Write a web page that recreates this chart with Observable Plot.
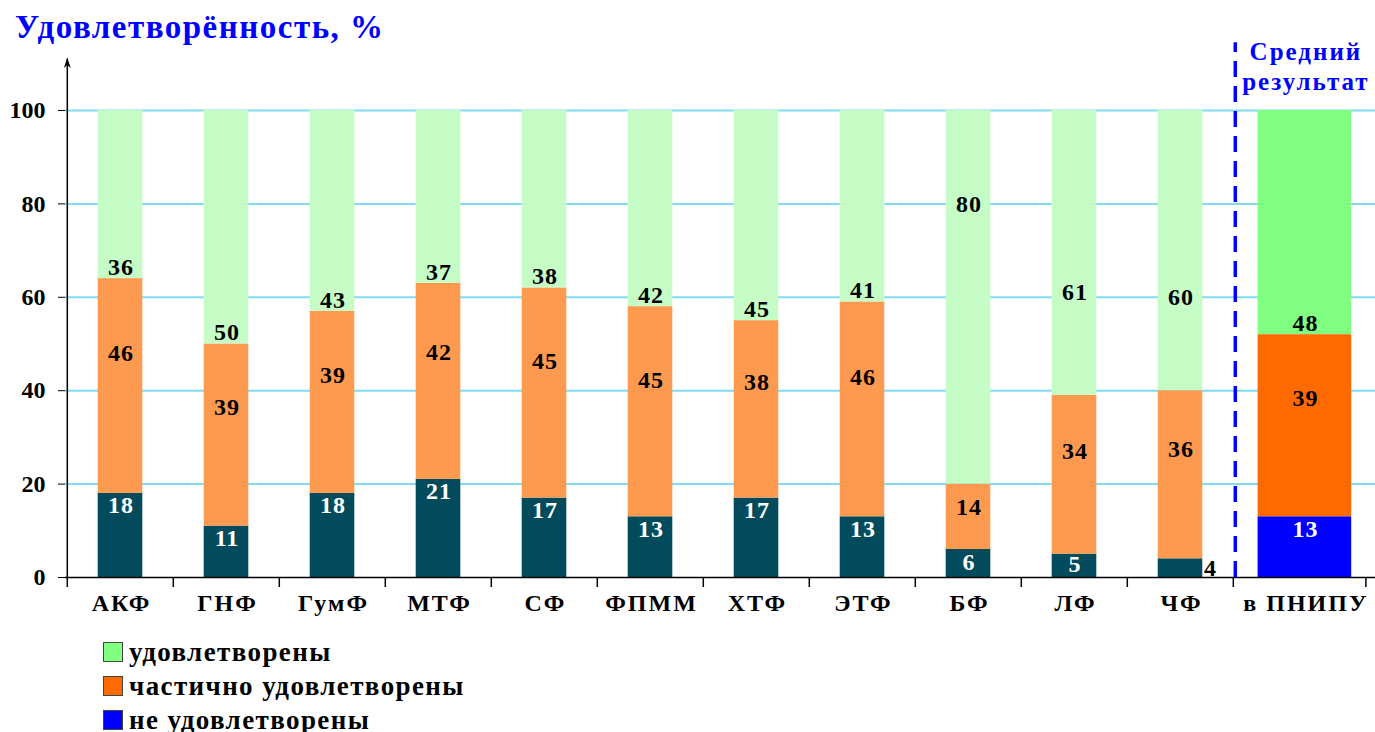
<!DOCTYPE html>
<html><head><meta charset="utf-8">
<script src="https://cdn.jsdelivr.net/npm/d3@7"></script>
<script src="https://cdn.jsdelivr.net/npm/@observablehq/plot@0.6"></script>
<style>
body{margin:0;background:#fff;font-family:"Liberation Serif","Times New Roman",serif;overflow:hidden;}
#title{height:44px;box-sizing:border-box;padding:12px 0 0 15px;font-size:33px;line-height:30px;font-weight:bold;color:#0000ff;white-space:nowrap;letter-spacing:1.5px;}
#chart svg{display:block;}
#legend{padding-left:103px;margin-top:-5px;}
.row{height:34px;display:flex;align-items:center;font-size:27px;font-weight:bold;color:#000;letter-spacing:1.4px;}
.sw{width:18px;height:18px;border:1px solid #444;margin-right:6px;flex:none;}
</style></head><body>
<div id="title">Удовлетворённость, %</div>
<div id="chart"></div>
<div id="legend"></div>
<script>
const categories = ["АКФ","ГНФ","ГумФ","МТФ","СФ","ФПММ","ХТФ","ЭТФ","БФ","ЛФ","ЧФ","в ПНИПУ"];
const notSatisfied    = [18,11,18,21,17,13,17,13, 6, 5, 4,13];
const partlySatisfied = [46,39,39,42,45,45,38,46,14,34,36,39];
const satisfied       = [36,50,43,37,38,42,45,41,80,61,60,48];
const seriesNames = ["не удовлетворены","частично удовлетворены","удовлетворены"];
const yTicks = [0,20,40,60,80,100];
const averageNote = "Средний\nрезультат";

const facultyColors = ["#024b5d","#fd9a50","#c6fdc6"];
const averageColors = ["#0000ff","#ff6a00","#80ff80"];

const rows = [];
categories.forEach((cat, i) => {
  const vals = [notSatisfied[i], partlySatisfied[i], satisfied[i]];
  let lower = 0;
  vals.forEach((v, j) => {
    rows.push({cat, series: j, value: v, lower, upper: lower + v, avg: i === categories.length - 1});
    lower += v;
  });
});
const facRows = rows.filter(d => !d.avg);
const avgRows = rows.filter(d => d.avg);
const facCats = categories.slice(0, -1);
const avgCats = categories.slice(-1);

const W = 1375, H = 596;
const x0 = 65, step = 106.4, barHalf = 22.5;
const avgInsetL = 24.6, avgInsetR = -12.2;
const avgShift = (avgInsetL - avgInsetR) / 2;

function labelY(d) {
  if (d.series === 0) return d.value < 5 ? d.value / 2 : d.value >= 10 ? d.value - 2.6 : d.value * 0.55;
  if (d.series === 1) return d.lower + 0.65 * d.value;
  return d.value >= 55 ? d.value : d.lower + 2.4;
}
const labelFont = {fontSize: 24, fontWeight: "bold"};
function labels(data, dx, half) {
  return [
    Plot.text(data.filter(d => !(d.series === 0 && d.value < 5)), {
      x: "cat", y: labelY, text: d => String(d.value), dx: dx + 0.5,
      fill: d => d.series === 0 ? "white" : "black", ...labelFont
    }),
    Plot.text(data.filter(d => d.series === 0 && d.value < 5), {
      x: "cat", y: labelY, text: d => String(d.value), dx: dx + half + 1,
      textAnchor: "start", fill: "black", ...labelFont
    })
  ];
}

const arrowHead = {draw(ctx) { ctx.moveTo(0, -1); ctx.lineTo(-3.5, 9); ctx.lineTo(0, 6); ctx.lineTo(3.5, 9); ctx.closePath(); }};
const catFont = {fontSize: 24, fontWeight: "bold", fill: "black"};

const plot = Plot.plot({
  width: W, height: H,
  marginLeft: x0, marginRight: 0, marginTop: 14.6, marginBottom: 63,
  x: {type: "band", domain: categories, range: [x0, x0 + step * categories.length], padding: 0, axis: null},
  y: {domain: [0, 111], ticks: yTicks, tickSize: 7, tickPadding: 13, label: null},
  color: {type: "identity"},
  style: {fontFamily: "Liberation Serif", fontWeight: "bold", fontSize: "24px", color: "black", background: "white", overflow: "visible"},
  marks: [
    Plot.ruleY(yTicks.filter(t => t > 0), {stroke: "#7fdcf3", strokeWidth: 2}),
    Plot.barY(facRows, {x: "cat", y1: "lower", y2: "upper", fill: d => facultyColors[d.series], insetLeft: (step / 2 - barHalf), insetRight: (step / 2 - barHalf)}),
    Plot.barY(avgRows, {x: "cat", y1: "lower", y2: "upper", fill: d => averageColors[d.series], insetLeft: avgInsetL, insetRight: avgInsetR}),
    Plot.ruleY([0], {stroke: "black", strokeWidth: 1.5}),
    Plot.ruleX([categories[0]], {x: d => d, y1: 0, y2: 111, dx: -step / 2, stroke: "black", strokeWidth: 1.5}),
    Plot.dot([categories[0]], {x: d => d, y: 111, dx: -step / 2, symbol: arrowHead, fill: "black", stroke: "none"}),
    Plot.ruleX(categories, {x: d => d, y1: 0, y2: -2.14, dx: -step / 2, stroke: "black", strokeWidth: 1.5}),
    Plot.ruleX(avgCats, {x: d => d, y1: 0, y2: -2.14, dx: step / 2 + 26.2, stroke: "black", strokeWidth: 1.5}),
    Plot.ruleX(avgCats, {x: d => d, y1: 0, y2: 114.5, dx: -step / 2 + 2, stroke: "#0000ff", strokeWidth: 3.5, strokeDasharray: "16,9"}),
    ...labels(facRows, 0, barHalf),
    ...labels(avgRows, avgShift, barHalf - avgInsetL + step / 2),
    Plot.text(facCats, {x: d => d, y: 0, dy: 26, dx: 1, text: d => d, ...catFont}),
    Plot.text(avgCats, {x: d => d, y: 0, dy: 26, dx: avgShift + 1, text: d => d, ...catFont}),
    Plot.text(avgCats, {x: d => d, y: 111, dy: 6.5, dx: avgShift + 1, text: () => averageNote, fontSize: 25, fontWeight: "bold", fill: "#0000ff", lineHeight: 1.2})
  ]
});
// letter spacing (styling only) to match the wide lettering of the original
d3.select(plot).selectAll("text").each(function () {
  const t = this.textContent;
  if (this.closest('g[aria-label*="axis"]')) return;
  if (categories.includes(t)) this.setAttribute("letter-spacing", "2px");
  else if (/^\d+$/.test(t)) this.setAttribute("letter-spacing", "1px");
  else if (t.includes("Средний")) this.setAttribute("letter-spacing", "2px");
});
document.getElementById("chart").appendChild(plot);

const legend = document.getElementById("legend");
[2, 1, 0].forEach(j => {
  const row = document.createElement("div");
  row.className = "row";
  const sw = document.createElement("span");
  sw.className = "sw";
  sw.style.background = averageColors[j];
  const lab = document.createElement("span");
  lab.textContent = seriesNames[j];
  row.appendChild(sw); row.appendChild(lab);
  legend.appendChild(row);
});
</script>
</body></html>
